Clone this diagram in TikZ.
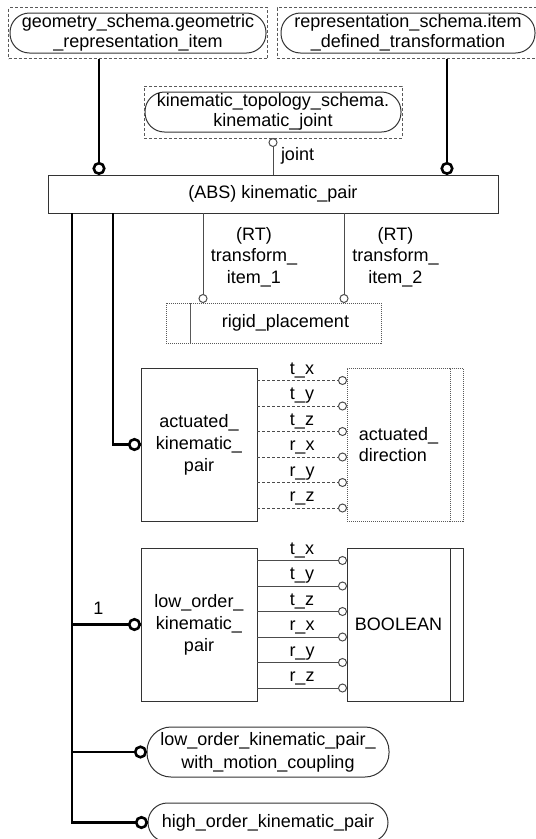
\documentclass[tikz,border=0pt]{standalone}
\usepackage{fontspec}
\setmainfont{Liberation Sans}
\usetikzlibrary{fit,calc}
\begin{document}
\begin{tikzpicture}[x=1pt,y=-1pt,
  font=\fontsize{18}{21}\selectfont,
  every node/.style={inner sep=0pt, outer sep=0pt},
  box/.style={draw=black!80, line width=1pt, align=center},
  rbox/.style={draw=black!80, line width=1pt, rounded corners=19.5pt, align=center, minimum height=40pt},
  extbox/.style={draw=black!65, line width=0.9pt, dash pattern=on 3pt off 2pt},
  dotbox/.style={draw=black!65, line width=0.9pt, dash pattern=on 1pt off 1pt, align=center},
  thickc/.style={line width=2.8pt},
  thinc/.style={draw=black!70, line width=1pt},
  attrd/.style={thinc, dash pattern=on 3pt off 2pt},
  attrs/.style={thinc},
  bigo/.style={circle, draw=black, fill=white, line width=2.6pt, minimum size=10.5pt, outer sep=1.3pt, solid},
  smallo/.style={circle, draw=black!70, fill=white, line width=1pt, minimum size=8pt, outer sep=0.5pt, solid},
  lbl/.style={anchor=base, yshift=6.5pt},
]
\useasboundingbox (0,0) rectangle (536,839);

% top external entities
\node[rbox, minimum width=256pt, font=\fontsize{18}{20.5}\selectfont] (gri) at (138,33) {geometry\_schema.geometric\\\_representation\_item};
\node[extbox, fit=(gri), inner xsep=1.5pt, inner ysep=5.5pt] (grib) {};
\node[rbox, minimum width=254pt, font=\fontsize{18}{20.5}\selectfont] (ri) at (408,33) {representation\_schema.item\\\_defined\_transformation};
\node[extbox, fit=(ri), inner xsep=4pt, inner ysep=5.5pt] (rib) {};
\node[rbox, minimum width=256pt, font=\fontsize{18}{20.5}\selectfont] (kj) at (273,112) {kinematic\_topology\_schema.\\kinematic\_joint};
\node[extbox, fit=(kj), inner xsep=1pt, inner ysep=6pt] (kjb) {};

% main entity
\node[box, minimum width=450pt, minimum height=38pt] (kp) at (273,194) {(ABS) kinematic\_pair};

% rigid placement
\node[dotbox, minimum width=191pt, minimum height=40pt] (rp) at (285.5,323) {rigid\_placement};
\node[dotbox, minimum width=24pt, minimum height=40pt, anchor=east] (rpl) at (rp.west) {};

% actuated kinematic pair
\node[box, minimum width=116pt, minimum height=153pt, font=\fontsize{18}{22}\selectfont] (akp) at (199,444.5) {actuated\_\\kinematic\_\\pair};
\node[dotbox, minimum width=103pt, minimum height=153pt, align=left, font=\fontsize{18}{21}\selectfont] (ad) at (398.5,444.5) {actuated\_\\direction};
\node[dotbox, minimum width=13pt, minimum height=153pt, anchor=west] (adr) at (ad.east) {};

% low order kinematic pair
\node[box, minimum width=116pt, minimum height=153pt, font=\fontsize{18}{22}\selectfont] (lok) at (199,624.5) {low\_order\_\\kinematic\_\\pair};
\node[box, minimum width=103pt, minimum height=153pt] (bool) at (398.5,624.5) {BOOLEAN};
\node[box, minimum width=13pt, minimum height=153pt, anchor=west] (boolr) at (bool.east) {};

% subtypes
\node[rbox, minimum width=242pt, minimum height=50pt, rounded corners=24pt, font=\fontsize{18}{23}\selectfont] (lokm) at (268,752) {low\_order\_kinematic\_pair\_\\with\_motion\_coupling};
\node[rbox, minimum width=240pt, minimum height=39pt] (hok) at (268,822.5) {high\_order\_kinematic\_pair};

% connector x positions
\coordinate (cg) at (99,0);
\coordinate (cr) at (447,0);
\coordinate (t1) at (203,0);
\coordinate (t2) at (344,0);
\coordinate (b1) at (72,0);
\coordinate (b2) at (113,0);

% top connectors
\draw[thickc] (grib.south -| cg) -- (kp.north -| cg) node[bigo, anchor=south] {};
\draw[thickc] (rib.south -| cr) -- (kp.north -| cr) node[bigo, anchor=south] {};
\draw[thinc] (kp.north) -- node[anchor=west, xshift=8pt, yshift=1pt] (jl) {joint} (kjb.south) node[smallo, anchor=north] {};

% transform items
\draw[thinc] (kp.south -| t1) -- (rp.north -| t1) node[smallo, anchor=south] {};
\draw[thinc] (kp.south -| t2) -- (rp.north -| t2) node[smallo, anchor=south] {};
\node[align=center, font=\fontsize{18}{21.5}\selectfont] (rt1) at (254,257) {(RT)\\transform\_\\item\_1};
\node[align=center, font=\fontsize{18}{21.5}\selectfont] (rt2) at (395.5,257) {(RT)\\transform\_\\item\_2};

% subtype connectors
\draw[thickc] (kp.south -| b2) |- (akp.west) node[bigo, anchor=east] {};
\draw[thickc] (kp.south -| b1) |- (hok.west) node[bigo, anchor=east] {};
\draw[thickc] (b1 |- lok.west) -- (lok.west) node[bigo, anchor=east] {};
\draw[thickc] (b1 |- lokm.west) -- (lokm.west) node[bigo, anchor=east] {};
\node (one) at (98.5,608) {1};

% attribute rows
\foreach \i/\lab in {0/t\_x,1/t\_y,2/t\_z,3/r\_x,4/r\_y,5/r\_z}{
  \coordinate (ar\i) at (0,{380.5+25.5*\i});
  \coordinate (lr\i) at (0,{560.5+25.5*\i});
  \draw[attrd] (akp.east |- ar\i) -- node[lbl] {\lab} (ad.west |- ar\i) node[smallo, anchor=east] {};
  \draw[attrs] (lok.east |- lr\i) -- node[lbl] {\lab} (bool.west |- lr\i) node[smallo, anchor=east] {};
}
\end{tikzpicture}
\end{document}
